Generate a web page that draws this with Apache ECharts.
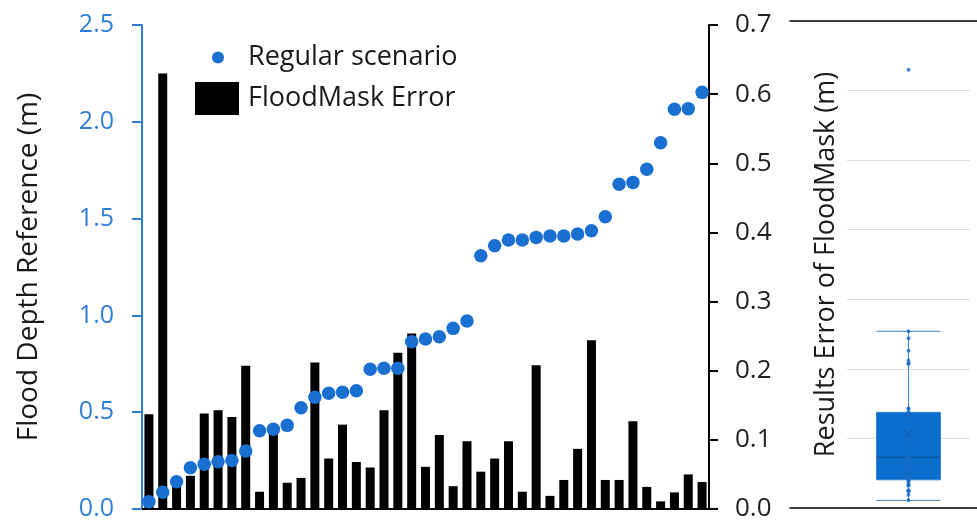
<!DOCTYPE html>
<html>
<head>
<meta charset="utf-8">
<script src="https://cdn.jsdelivr.net/npm/echarts@6/dist/echarts.min.js"></script>
<style>
html,body{margin:0;padding:0;background:#fff;}
#chart{width:977px;height:522px;}
</style>
</head>
<body>
<div id="chart"></div>
<script>
// ---- data ----
var cases = ['1','2','3','4','5','6','7','8','9','10','11','12','13','14','15','16','17','18','19','20','21',
             '22','23','24','25','26','27','28','29','30','31','32','33','34','35','36','37','38','39','40','41'];
var floodDepthReference = [0.038,0.086,0.141,0.213,0.231,0.244,0.250,0.300,0.404,0.412,
                           0.432,0.523,0.577,0.598,0.603,0.611,0.722,0.727,0.727,0.864,
                           0.878,0.890,0.933,0.971,1.308,1.360,1.389,1.389,1.403,1.410,
                           1.410,1.420,1.437,1.510,1.677,1.687,1.755,1.892,2.065,2.068,2.152];
var floodMaskError = [0.137,0.630,0.035,0.048,0.138,0.143,0.133,0.207,0.025,0.112,
                      0.038,0.045,0.212,0.073,0.122,0.068,0.060,0.143,0.226,0.254,
                      0.061,0.107,0.033,0.098,0.054,0.073,0.098,0.025,0.208,0.019,
                      0.042,0.087,0.244,0.042,0.042,0.127,0.032,0.011,0.024,0.050,0.039];
var boxCategory = ['FloodMask'];
var leftAxisRange = {min: 0, max: 2.5, interval: 0.5};
var rightAxisRange = {min: 0, max: 0.7, interval: 0.1};
var seriesNames = ['Regular scenario', 'FloodMask Error'];
var leftAxisTitle = 'Flood Depth Reference (m)';
var rightAxisTitle = 'Results Error of FloodMask (m)';

// ---- box statistics (Excel exclusive-median style) ----
function median(a){ var n=a.length, m=Math.floor(n/2); return n%2 ? a[m] : (a[m-1]+a[m])/2; }
var sorted = floodMaskError.slice().sort(function(a,b){return a-b;});
var n = sorted.length, half = Math.floor(n/2);
var q2 = median(sorted);
var q1 = median(sorted.slice(0, half));
var q3 = median(sorted.slice(n % 2 ? half + 1 : half));
var iqr = q3 - q1;
var lowFence = q1 - 1.5*iqr, highFence = q3 + 1.5*iqr;
var wLow = sorted.filter(function(v){return v>=lowFence;})[0];
var wHighArr = sorted.filter(function(v){return v<=highFence;});
var wHigh = wHighArr[wHighArr.length-1];
var mean = sorted.reduce(function(s,v){return s+v;},0)/n;

var FONT = 'Open Sans';
var BLUE = '#1a70d0';
var AXBLUE = '#2f7fd8';

var chart = echarts.init(document.getElementById('chart'), null, {renderer:'canvas'});
chart.setOption({
  animation: false,
  backgroundColor: '#ffffff',
  textStyle: {fontFamily: FONT},
  legend: [
    {data: [{name: seriesNames[0], icon: 'circle'}], left: 212, top: 44, padding: 0, itemWidth: 12, itemHeight: 12,
     itemGap: 0, textStyle: {fontSize: 27, color: '#1a1a1a', fontFamily: FONT, padding: [0,0,0,19]}},
    {data: [{name: seriesNames[1], icon: 'rect'}], left: 195, top: 82, padding: 0, itemWidth: 44, itemHeight: 33,
     itemGap: 0, textStyle: {fontSize: 27, color: '#1a1a1a', fontFamily: FONT, padding: [0,0,0,4]}}
  ],
  grid: [
    {left: 142, right: 268, top: 25, bottom: 13},
    {left: 790, right: 0, top: 21, bottom: 14},
    {left: 847, right: 7, top: 21, bottom: 14}
  ],
  xAxis: [
    {type: 'category', gridIndex: 0, data: cases, boundaryGap: true,
     axisLine: {show: true, lineStyle: {color: '#000', width: 2}},
     axisTick: {show: false}, axisLabel: {show: false}, splitLine: {show: false}},
    {type: 'category', gridIndex: 1, data: boxCategory, position: 'bottom',
     axisLine: {show: true, onZero: false, lineStyle: {color: '#000', width: 1.5}},
     axisTick: {show: false}, axisLabel: {show: false}},
    {type: 'category', gridIndex: 1, data: boxCategory, position: 'top',
     axisLine: {show: true, onZero: false, lineStyle: {color: '#000', width: 1.5}},
     axisTick: {show: false}, axisLabel: {show: false}},
    {type: 'category', gridIndex: 2, data: boxCategory,
     axisLine: {show: false}, axisTick: {show: false}, axisLabel: {show: false}}
  ],
  yAxis: [
    {type: 'value', gridIndex: 0, position: 'left', min: leftAxisRange.min, max: leftAxisRange.max, interval: leftAxisRange.interval,
     name: leftAxisTitle, nameLocation: 'middle', nameGap: 99,
     nameTextStyle: {fontSize: 28, color: '#1a1a1a', fontFamily: FONT},
     axisLine: {show: true, lineStyle: {color: AXBLUE, width: 2}},
     axisTick: {show: true, inside: false, length: 10, lineStyle: {color: AXBLUE, width: 2}},
     axisLabel: {fontSize: 25, color: AXBLUE, margin: 28, fontFamily: FONT,
                 formatter: function(v){return v.toFixed(1);}},
     splitLine: {show: false}},
    {type: 'value', gridIndex: 0, position: 'right', min: rightAxisRange.min, max: rightAxisRange.max, interval: rightAxisRange.interval,
     axisLine: {show: true, lineStyle: {color: '#000', width: 2}},
     axisTick: {show: true, inside: false, length: 9, lineStyle: {color: '#000', width: 2}},
     axisLabel: {fontSize: 26, color: '#222', margin: 26, fontFamily: FONT,
                 formatter: function(v){return v.toFixed(1);}},
     splitLine: {show: false}},
    {type: 'value', gridIndex: 1, min: rightAxisRange.min, max: rightAxisRange.max, interval: rightAxisRange.interval,
     axisLine: {show: false}, axisTick: {show: false}, axisLabel: {show: false}, splitLine: {show: false}},
    {type: 'value', gridIndex: 2, min: rightAxisRange.min, max: rightAxisRange.max, interval: rightAxisRange.interval,
     name: rightAxisTitle, nameLocation: 'middle', nameGap: 7,
     nameTextStyle: {fontSize: 27, color: '#1a1a1a', fontFamily: FONT},
     axisLine: {show: false}, axisTick: {show: false}, axisLabel: {show: false},
     splitLine: {show: true, lineStyle: {color: '#dcdcdc', width: 1}}}
  ],
  series: [
    {name: seriesNames[1], type: 'bar', xAxisIndex: 0, yAxisIndex: 1, data: floodMaskError,
     barWidth: 9, itemStyle: {color: '#000'}, z: 2},
    {name: seriesNames[0], type: 'scatter', xAxisIndex: 0, yAxisIndex: 0, data: floodDepthReference,
     symbol: 'circle', symbolSize: 13.5, itemStyle: {color: BLUE, opacity: 1}, z: 3},
    {name: 'box', type: 'boxplot', xAxisIndex: 3, yAxisIndex: 3,
     data: [[wLow, q1, q2, q3, wHigh]], boxWidth: [64, 64],
     itemStyle: {color: '#0b6dcc', borderColor: '#3a86d6', borderWidth: 1}, z: 2},
    {name: 'median', type: 'scatter', xAxisIndex: 3, yAxisIndex: 3,
     data: [[boxCategory[0], q2]], symbol: 'rect', symbolSize: [64, 1.5],
     itemStyle: {color: '#0a4d92'}, z: 3, silent: true},
    {name: 'points', type: 'scatter', xAxisIndex: 3, yAxisIndex: 3,
     data: floodMaskError.map(function(v){return [boxCategory[0], v];}),
     symbol: 'circle', symbolSize: 4, itemStyle: {color: '#1c6cc6'}, z: 4},
    {name: 'mean', type: 'scatter', xAxisIndex: 3, yAxisIndex: 3,
     data: [[boxCategory[0], mean]],
     symbol: 'path://M0,1L1,0L5,4L9,0L10,1L6,5L10,9L9,10L5,6L1,10L0,9L4,5Z', symbolSize: 8,
     itemStyle: {color: '#0d57a8'}, z: 5}
  ]
});
</script>
</body>
</html>
